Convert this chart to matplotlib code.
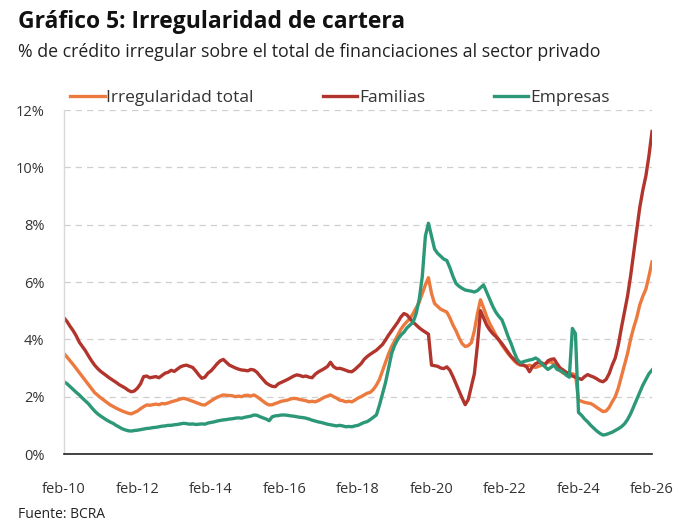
import matplotlib
matplotlib.use("Agg")
import matplotlib.pyplot as plt
import numpy as np

plt.rcParams['font.family'] = ['Open Sans', 'DejaVu Sans']

# Monthly data, Feb-2010 ... Feb-2026 (% of irregular credit)
total = [
    3.50, 3.38, 3.25, 3.12, 2.98, 2.84, 2.70, 2.56, 2.42, 2.28, 2.14, 2.05,
    1.96, 1.88, 1.80, 1.72, 1.66, 1.60, 1.55, 1.50, 1.46, 1.42, 1.40, 1.45,
    1.50, 1.58, 1.65, 1.71, 1.70, 1.72, 1.74, 1.72, 1.76, 1.75, 1.78, 1.82,
    1.85, 1.88, 1.92, 1.94, 1.92, 1.88, 1.84, 1.80, 1.76, 1.72, 1.71, 1.78,
    1.85, 1.92, 1.98, 2.02, 2.06, 2.05, 2.04, 2.03, 2.00, 2.02, 2.00, 2.04,
    2.05, 2.02, 2.06, 2.00, 1.92, 1.84, 1.76, 1.71, 1.72, 1.76, 1.80, 1.84,
    1.86, 1.88, 1.92, 1.94, 1.93, 1.90, 1.88, 1.86, 1.82, 1.84, 1.82, 1.86,
    1.92, 1.98, 2.02, 2.06, 2.00, 1.95, 1.88, 1.86, 1.82, 1.84, 1.82, 1.88,
    1.95, 2.00, 2.06, 2.12, 2.15, 2.25, 2.40, 2.60, 2.90, 3.20, 3.50, 3.75,
    3.95, 4.15, 4.35, 4.50, 4.62, 4.73, 4.90, 5.10, 5.30, 5.60, 5.90, 6.15,
    5.60, 5.25, 5.15, 5.05, 5.00, 4.95, 4.75, 4.50, 4.30, 4.05, 3.85, 3.75,
    3.78, 3.88, 4.30, 4.90, 5.38, 5.10, 4.80, 4.55, 4.35, 4.15, 3.98, 3.80,
    3.65, 3.50, 3.38, 3.25, 3.15, 3.10, 3.10, 3.06, 3.10, 3.05, 3.02, 3.06,
    3.10, 3.15, 3.20, 3.22, 3.12, 3.00, 2.90, 2.82, 2.80, 2.78, 2.80, 2.76,
    1.88, 1.84, 1.80, 1.78, 1.76, 1.70, 1.62, 1.55, 1.48, 1.50, 1.62, 1.82,
    2.00, 2.30, 2.70, 3.10, 3.50, 4.00, 4.40, 4.75, 5.20, 5.50, 5.75, 6.20,
    6.70,
]

familias = [
    4.75, 4.62, 4.45, 4.30, 4.12, 3.90, 3.75, 3.60, 3.42, 3.25, 3.10, 2.98,
    2.88, 2.80, 2.72, 2.64, 2.57, 2.50, 2.42, 2.36, 2.30, 2.22, 2.17, 2.20,
    2.30, 2.45, 2.70, 2.72, 2.66, 2.68, 2.70, 2.66, 2.74, 2.82, 2.85, 2.92,
    2.88, 2.96, 3.04, 3.08, 3.10, 3.06, 3.02, 2.90, 2.76, 2.64, 2.68, 2.82,
    2.90, 3.02, 3.15, 3.25, 3.30, 3.20, 3.10, 3.05, 3.00, 2.96, 2.93, 2.92,
    2.90, 2.95, 2.93, 2.85, 2.72, 2.60, 2.48, 2.41, 2.36, 2.35, 2.45, 2.50,
    2.55, 2.60, 2.66, 2.72, 2.76, 2.74, 2.70, 2.72, 2.68, 2.66, 2.78, 2.86,
    2.92, 2.98, 3.05, 3.20, 3.05, 2.98, 2.99, 2.96, 2.92, 2.88, 2.87, 2.95,
    3.05, 3.15, 3.30, 3.40, 3.48, 3.55, 3.62, 3.72, 3.82, 3.98, 4.15, 4.30,
    4.45, 4.60, 4.78, 4.90, 4.85, 4.72, 4.60, 4.50, 4.40, 4.32, 4.25, 4.18,
    3.10, 3.08, 3.06, 3.00, 2.98, 3.04, 2.92, 2.70, 2.45, 2.20, 1.95, 1.72,
    1.90, 2.35, 2.80, 3.80, 5.00, 4.75, 4.50, 4.33, 4.20, 4.10, 3.98, 3.85,
    3.70, 3.55, 3.40, 3.30, 3.20, 3.12, 3.10, 3.05, 2.87, 3.05, 3.15, 3.20,
    3.18, 3.10, 3.25, 3.30, 3.32, 3.15, 3.00, 2.93, 2.85, 2.80, 2.72, 2.68,
    2.64, 2.60, 2.70, 2.77, 2.72, 2.68, 2.62, 2.55, 2.52, 2.60, 2.80, 3.10,
    3.35, 3.80, 4.40, 4.95, 5.50, 6.20, 7.00, 7.80, 8.60, 9.20, 9.70, 10.40,
    11.25,
]

empresas = [
    2.52, 2.45, 2.35, 2.25, 2.15, 2.06, 1.95, 1.85, 1.75, 1.62, 1.50, 1.40,
    1.32, 1.25, 1.18, 1.12, 1.07, 1.00, 0.94, 0.88, 0.84, 0.81, 0.80, 0.82,
    0.83, 0.85, 0.87, 0.89, 0.90, 0.92, 0.93, 0.95, 0.97, 0.98, 1.00, 1.00,
    1.02, 1.03, 1.05, 1.07, 1.06, 1.04, 1.05, 1.03, 1.04, 1.05, 1.04, 1.08,
    1.10, 1.12, 1.15, 1.17, 1.19, 1.20, 1.22, 1.23, 1.25, 1.26, 1.25, 1.28,
    1.30, 1.32, 1.36, 1.35, 1.30, 1.26, 1.22, 1.16, 1.30, 1.33, 1.34, 1.36,
    1.36, 1.35, 1.33, 1.32, 1.30, 1.28, 1.27, 1.25, 1.22, 1.18, 1.15, 1.12,
    1.10, 1.07, 1.04, 1.02, 1.00, 0.98, 1.00, 0.98, 0.95, 0.96, 0.95, 0.98,
    1.00, 1.05, 1.10, 1.13, 1.20, 1.28, 1.36, 1.70, 2.10, 2.50, 3.00, 3.51,
    3.80, 4.00, 4.15, 4.25, 4.40, 4.50, 4.60, 4.90, 5.40, 6.20, 7.60, 8.05,
    7.60, 7.15, 7.00, 6.90, 6.80, 6.75, 6.50, 6.20, 5.95, 5.85, 5.78, 5.72,
    5.70, 5.68, 5.65, 5.70, 5.80, 5.90, 5.65, 5.40, 5.15, 4.95, 4.80, 4.68,
    4.40, 4.10, 3.85, 3.55, 3.30, 3.18, 3.22, 3.25, 3.28, 3.30, 3.35, 3.28,
    3.15, 3.05, 2.95, 3.02, 3.10, 2.95, 2.92, 2.85, 2.75, 2.68, 4.38, 4.20,
    1.45, 1.35, 1.22, 1.12, 1.00, 0.90, 0.80, 0.72, 0.66, 0.68, 0.72, 0.76,
    0.82, 0.88, 0.95, 1.05, 1.20, 1.40, 1.65, 1.90, 2.15, 2.40, 2.60, 2.80,
    2.93,
]

tick_labels = ["feb-10", "feb-12", "feb-14", "feb-16", "feb-18",
               "feb-20", "feb-22", "feb-24", "feb-26"]
y_ticks = [0, 2, 4, 6, 8, 10, 12]

c_total = "#EC7A3F"
c_fam = "#B2352D"
c_emp = "#2C9878"

fig = plt.figure(figsize=(6.91, 5.30), dpi=100)
ax = fig.add_axes([64/691, 76/530, (652-64)/691, (454-110)/530])

x = np.arange(len(total))
ax.plot(x, total, color=c_total, lw=2.4, label="Irregularidad total", solid_joinstyle="round")
ax.plot(x, familias, color=c_fam, lw=2.4, label="Familias", solid_joinstyle="round")
ax.plot(x, empresas, color=c_emp, lw=2.4, label="Empresas", solid_joinstyle="round")

ax.set_xlim(0, len(total) - 1)
ax.set_ylim(0, 12)
ax.set_xticks(np.arange(0, len(total), 24))
ax.set_xticklabels(tick_labels)
ax.set_yticks(y_ticks)
ax.set_yticklabels([f"{v}%" for v in y_ticks])
ax.tick_params(axis="x", length=0, pad=20, labelsize=10.5, colors="#333333")
ax.tick_params(axis="y", length=0, pad=14, labelsize=10.5, colors="#333333")

for s in ["top", "right"]:
    ax.spines[s].set_visible(False)
ax.spines["left"].set_color("#d9d9d9")
ax.spines["left"].set_linewidth(1.0)
ax.spines["bottom"].set_color("#222222")
ax.spines["bottom"].set_linewidth(1.2)
ax.yaxis.grid(True, linestyle=(0, (5, 4)), color="#cfcfcf", lw=0.9)
ax.set_axisbelow(True)

leg = fig.legend(loc="center left", bbox_to_anchor=(70/691, 1 - 98/530), ncol=3,
                 frameon=False, fontsize=12.5, handlelength=2.0, handletextpad=0.1,
                 columnspacing=3.95, borderaxespad=0, borderpad=0)
for t in leg.get_texts():
    t.set_color("#333333")

fig.text(18/691, 1 - 22/530, "Gráfico 5: Irregularidad de cartera", fontsize=16.5,
         fontweight="bold", va="center", ha="left", color="#111111")
fig.text(18/691, 1 - 52/530, "% de crédito irregular sobre el total de financiaciones al sector privado",
         fontsize=12.8, va="center", ha="left", color="#222222")
fig.text(18/691, 1 - 514/530, "Fuente: BCRA", fontsize=10, va="center", ha="left", color="#222222")

fig.savefig("out.png", dpi=100)
